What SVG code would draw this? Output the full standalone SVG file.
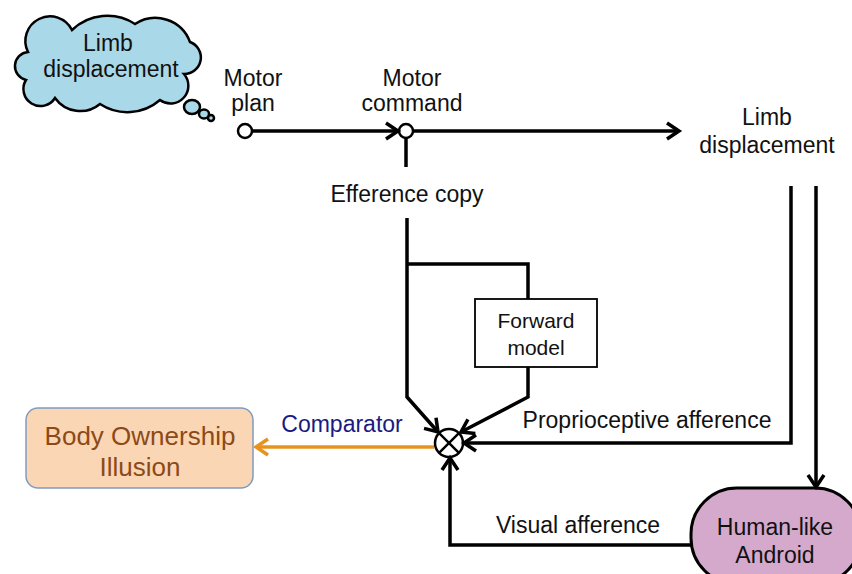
<svg xmlns="http://www.w3.org/2000/svg" width="852" height="574" viewBox="0 0 852 574">
<style>
text{font-family:"Liberation Sans",Arial,sans-serif;font-size:23px;fill:#111;text-anchor:middle}
.ln{fill:none;stroke:#000;stroke-width:3.5;stroke-linejoin:miter}
.org{fill:none;stroke:#e8921e;stroke-width:3.5}
.dot{fill:#fff;stroke:#000;stroke-width:2.5}
.cloud{fill:#a9d8e8;stroke:#000;stroke-width:2.5}
</style>
<defs>
<marker id="arr" viewBox="0 0 16 20" refX="14" refY="10" markerWidth="16" markerHeight="20" markerUnits="userSpaceOnUse" orient="auto" overflow="visible">
<path d="M2,2 L14,10 L2,18" fill="none" stroke="#000" stroke-width="3.5"/>
</marker>
<marker id="arrO" viewBox="0 0 16 20" refX="14" refY="10" markerWidth="16" markerHeight="20" markerUnits="userSpaceOnUse" orient="auto" overflow="visible">
<path d="M2,2 L14,10 L2,18" fill="none" stroke="#e8921e" stroke-width="3.5"/>
</marker>
</defs>

<g id="thought">
<path class="cloud" d="M28,52 A22,22 0 0 1 72,30 A51,51 0 0 1 135,24 A37,37 0 0 1 190,42 A16.5,16.5 0 0 1 184,74 A17.8,17.8 0 0 1 160,100 A50,50 0 0 1 100,104 A31,31 0 0 1 55,98 A17,17 0 0 1 26,80 A14.2,14.2 0 0 1 28,52 Z"/>
<ellipse class="cloud" cx="192" cy="107" rx="8" ry="7"/>
<ellipse class="cloud" cx="204" cy="114" rx="5" ry="4.5"/>
<ellipse class="cloud" cx="211" cy="118" rx="3" ry="3"/>
<text x="108" y="51">Limb</text>
<text x="111" y="77">displacement</text>
</g>

<g id="motor-plan">
<circle class="dot" cx="245" cy="131" r="7"/>
<text x="253" y="86">Motor</text>
<text x="253" y="111">plan</text>
</g>

<g id="motor-command">
<circle class="dot" cx="406" cy="131" r="7"/>
<text x="412" y="86">Motor</text>
<text x="412" y="111">command</text>
</g>

<g id="limb-displacement">
<text x="767" y="125">Limb</text>
<text x="767" y="153">displacement</text>
</g>

<g id="efference-copy">
<text x="407" y="202">Efference copy</text>
</g>

<g id="forward-model">
<rect x="475" y="299" width="122" height="68" fill="#fff" stroke="#000" stroke-width="1.8"/>
<text x="536" y="328" style="font-size:21px">Forward</text>
<text x="536" y="355" style="font-size:21px">model</text>
</g>

<g id="comparator">
<circle cx="449" cy="443" r="14" fill="#fff" stroke="#000" stroke-width="2.5"/>
<path d="M439.1,433.1 L458.9,452.9 M458.9,433.1 L439.1,452.9" stroke="#000" stroke-width="2.5"/>
<text x="342" y="432" style="fill:#1a1a80">Comparator</text>
</g>

<g id="body-ownership">
<rect x="26" y="408" width="227" height="80" rx="12" fill="#fbd6b5" stroke="#7f9cc0" stroke-width="1.5"/>
<text x="140" y="445" style="font-size:26px;fill:#8c4a18">Body Ownership</text>
<text x="140" y="476" style="font-size:26px;fill:#8c4a18">Illusion</text>
</g>

<g id="android">
<rect x="691" y="488" width="170" height="96" rx="46" fill="#d5a9cc" stroke="#000" stroke-width="3"/>
<text x="775" y="535">Human-like</text>
<text x="775" y="563">Android</text>
</g>

<g id="connectors">
<path class="ln" d="M252,131 L398,131" marker-end="url(#arr)"/>
<path class="ln" d="M413,131 L679,131" marker-end="url(#arr)"/>
<path class="ln" d="M406,138 L406,167"/>
<path class="ln" d="M407,218 L407,397 L438,432" marker-end="url(#arr)"/>
<path class="ln" d="M407,264 L528,264 L528,299"/>
<path class="ln" d="M528,367 L528,397 L461,432" marker-end="url(#arr)"/>
<path class="ln" d="M791,186 L791,443 L464,443" marker-end="url(#arr)"/>
<path class="ln" d="M816,186 L816,487" marker-end="url(#arr)"/>
<path class="ln" d="M692,545 L450,545 L450,458" marker-end="url(#arr)"/>
<path class="org" d="M434,447 L256,447" marker-end="url(#arrO)"/>
<text x="647" y="428">Proprioceptive afference</text>
<text x="578" y="533">Visual afference</text>
</g>
</svg>
